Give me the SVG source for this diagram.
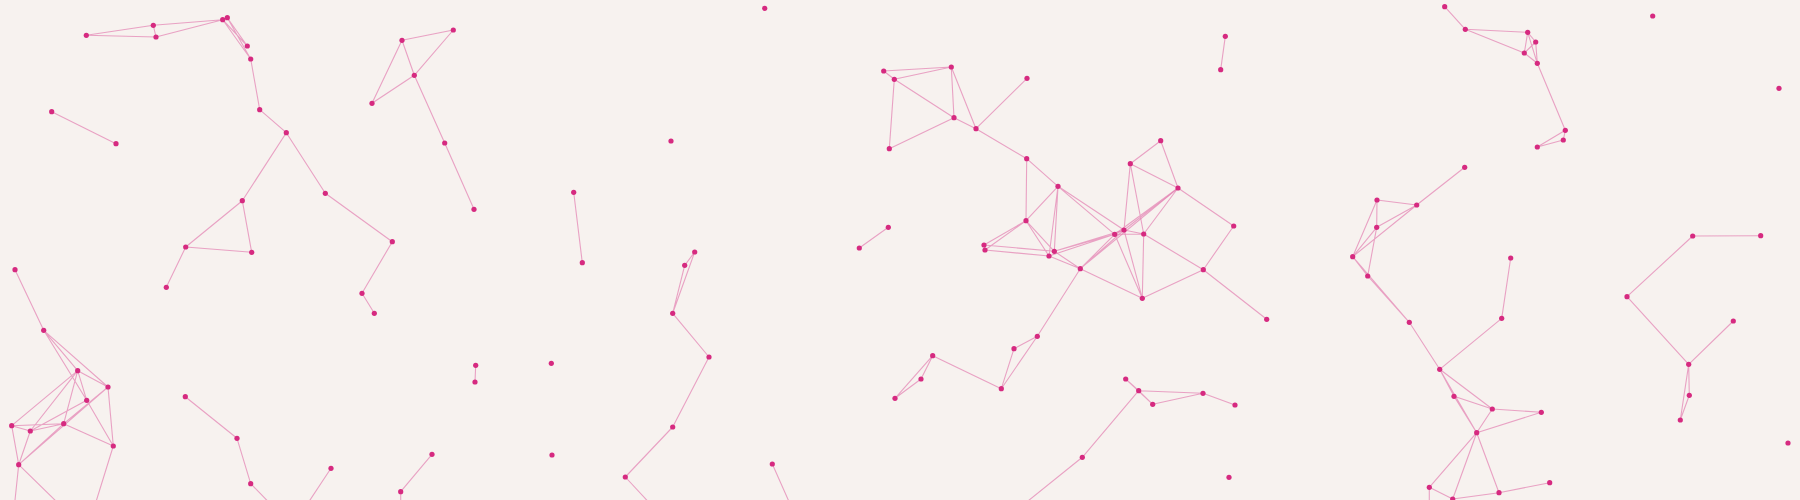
<svg xmlns="http://www.w3.org/2000/svg" width="1800" height="500" viewBox="0 0 1800 500">
<style>
.e{stroke:#e27fb0;stroke-width:1.1;stroke-opacity:0.7;fill:none}
.n{fill:#d62a80}
</style>
<rect width="1800" height="500" fill="#f7f2ef"/>
<g id="connectors" class="e">
<path d="M86.3,35.3L153.3,25.3M86.3,35.3L156,37M153.3,25.3L156,37M153.3,25.3L222.7,19.7M156,37L222.7,19.7M222.7,19.7L227.3,17.7M222.7,19.7L247.3,46M222.7,19.7L250.7,59M227.3,17.7L247.3,46M227.3,17.7L250.7,59M250.7,59L259.7,109.7M259.7,109.7L286.3,132.7M286.3,132.7L242.3,200.7M286.3,132.7L325.3,193.3M242.3,200.7L185.7,247M242.3,200.7L251.7,252.3M185.7,247L251.7,252.3M185.7,247L166.3,287.3M51.7,111.7L116,143.7"/>
<path d="M402,40.3L453.3,30M402,40.3L414.3,75.3M453.3,30L414.3,75.3M402,40.3L372,103.3M414.3,75.3L372,103.3M414.3,75.3L444.7,143M444.7,143L474,209.3M325.3,193.3L392.3,241.7M392.3,241.7L362,293.3M362,293.3L374.3,313.3M573.7,192.3L582.3,262.7"/>
<path d="M883.7,71L894.3,79.3M883.7,71L951.3,67M894.3,79.3L951.3,67M894.3,79.3L889.3,148.7M894.3,79.3L954,117.7M889.3,148.7L954,117.7M888.3,227.3L859.3,248"/>
<path d="M951.3,67L954,117.7M951.3,67L976,128.7M954,117.7L976,128.7M976,128.7L1027,78.3M976,128.7L1026.7,158.7M1026.7,158.7L1058,186.3M1026.7,158.7L1026,220.7M1058,186.3L1026,220.7M1058,186.3L1049,256M1058,186.3L1054.3,251.3M1058,186.3L1124,230M1058,186.3L1114.7,234.3M1026,220.7L984,245M1026,220.7L985,250M1026,220.7L1049,256M1026,220.7L1054.3,251.3M984,245L985,250M985,250L1049,256M984,245L1054.3,251.3M1054.3,251.3L1114.7,234.3M1054.3,251.3L1124,230M1049,256L1114.7,234.3"/>
<path d="M1160.7,140.7L1130.3,163.7M1160.7,140.7L1178,188M1130.3,163.7L1178,188M1130.3,163.7L1124,230M1130.3,163.7L1143.7,234M1178,188L1124,230M1178,188L1114.7,234.3M1178,188L1143.7,234M1178,188L1233.7,226M1124,230L1114.7,234.3M1124,230L1143.7,234M1114.7,234.3L1143.7,234M1143.7,234L1203.3,269.7M1233.7,226L1203.3,269.7"/>
<path d="M1049,256L1080.3,268.7M1054.3,251.3L1080.3,268.7M1080.3,268.7L1124,230M1080.3,268.7L1114.7,234.3M1080.3,268.7L1178,188M1080.3,268.7L1142.3,298.3M1080.3,268.7L1037.3,336.3M1142.3,298.3L1124,230M1142.3,298.3L1114.7,234.3M1142.3,298.3L1143.7,234M1142.3,298.3L1203.3,269.7M1037.3,336.3L1014,348.7M1037.3,336.3L1001.3,388.7M1014,348.7L1001.3,388.7M932.7,355.7L1001.3,388.7M932.7,355.7L921,379M932.7,355.7L895,398.3M921,379L895,398.3M1125.7,379L1138.7,390.7M1125.7,379L1152.7,404.3M1138.7,390.7L1152.7,404.3M1138.7,390.7L1082.3,457.3M1082.3,457.3L1023,505M1138.7,390.7L1203,393.3M1152.7,404.3L1203,393.3M1203,393.3L1235,405M1203.3,269.7L1266.7,319.3"/>
<path d="M1352.7,256.7L1367.7,276M1352.7,256.7L1409.3,322.3M1367.7,276L1409.3,322.3M1409.3,322.3L1439.7,369.3M1439.7,369.3L1454,396.3M1439.7,369.3L1492.3,409M1439.7,369.3L1476.7,432.7M1454,396.3L1492.3,409M1454,396.3L1476.7,432.7M1492.3,409L1476.7,432.7M1476.7,432.7L1429.3,487.3M1476.7,432.7L1452.7,499M1476.7,432.7L1499,492.7M1429.3,487.3L1452.7,499M1452.7,499L1499,492.7M1429.3,487.3L1429.3,505M1439.7,369.3L1501.7,318.3M1492.3,409L1541.3,412.3M1476.7,432.7L1541.3,412.3M1499,492.7L1549.7,482.7"/>
<path d="M1225.3,36.3L1220.7,69.7M1444.7,6.7L1465.3,29.3M1465.3,29.3L1527.7,32.3M1465.3,29.3L1524.3,53M1464.7,167.3L1416.7,205M1377,200L1416.7,205M1377,200L1376.7,227.3M1416.7,205L1376.7,227.3M1377,200L1352.7,256.7M1416.7,205L1352.7,256.7M1376.7,227.3L1352.7,256.7M1376.7,227.3L1367.7,276"/>
<path d="M1527.7,32.3L1535.7,42M1527.7,32.3L1524.3,53M1527.7,32.3L1537.3,63.3M1535.7,42L1524.3,53M1535.7,42L1537.3,63.3M1524.3,53L1537.3,63.3M1537.3,63.3L1565.3,130.3M1565.3,130.3L1563.3,140M1565.3,130.3L1537.3,147M1563.3,140L1537.3,147M1692.7,236L1760.7,235.7M1692.7,236L1627,296.7M1510.7,258L1501.7,318.3M1627,296.7L1688.7,364.3M1733.3,321L1688.7,364.3M1688.7,364.3L1689.3,395.3M1688.7,364.3L1680.3,420M1689.3,395.3L1680.3,420"/>
<path d="M15,269.7L43.7,330.3M43.7,330.3L77.7,370.7M43.7,330.3L108,387M43.7,330.3L86.7,400.3M77.7,370.7L108,387M77.7,370.7L86.7,400.3M77.7,370.7L11.7,425.7M77.7,370.7L30.3,431M77.7,370.7L63.7,423.7M108,387L63.7,423.7M108,387L18.7,464.7M108,387L113.3,446M86.7,400.3L113.3,446M86.7,400.3L30.3,431M63.7,423.7L113.3,446M11.7,425.7L63.7,423.7M11.7,425.7L30.3,431M30.3,431L63.7,423.7M11.7,425.7L18.7,464.7M30.3,431L18.7,464.7M63.7,423.7L18.7,464.7M18.7,464.7L14.5,505M18.7,464.7L60,505M113.3,446L95,505"/>
<path d="M185.3,396.7L237,438.3M237,438.3L250.7,483.7M250.7,483.7L271.5,505M475.7,365.3L475,382M331,468.3L306.7,505M432,454.3L400.7,491.7M400.7,491.7L400.7,505M694.7,252L684.7,265.3M694.7,252L672.7,313.3M684.7,265.3L672.7,313.3M672.7,313.3L709,357M709,357L672.7,427M672.7,427L625.3,477M625.3,477L651.3,505M772.3,464L790.5,505"/>
</g>
<g class="n">
<g id="A1"><circle cx="86.3" cy="35.3" r="2.6"/></g>
<g id="A2"><circle cx="153.3" cy="25.3" r="2.6"/></g>
<g id="A3"><circle cx="156" cy="37" r="2.6"/></g>
<g id="A4"><circle cx="222.7" cy="19.7" r="2.6"/></g>
<g id="A5"><circle cx="227.3" cy="17.7" r="2.6"/></g>
<g id="A6"><circle cx="247.3" cy="46" r="2.6"/></g>
<g id="A7"><circle cx="250.7" cy="59" r="2.6"/></g>
<g id="A8"><circle cx="259.7" cy="109.7" r="2.6"/></g>
<g id="A9"><circle cx="286.3" cy="132.7" r="2.6"/></g>
<g id="A10"><circle cx="51.7" cy="111.7" r="2.6"/></g>
<g id="A11"><circle cx="116" cy="143.7" r="2.6"/></g>
<g id="A12"><circle cx="242.3" cy="200.7" r="2.6"/></g>
<g id="A13"><circle cx="185.7" cy="247" r="2.6"/></g>
<g id="B1"><circle cx="402" cy="40.3" r="2.6"/></g>
<g id="B2"><circle cx="453.3" cy="30" r="2.6"/></g>
<g id="B3"><circle cx="414.3" cy="75.3" r="2.6"/></g>
<g id="B4"><circle cx="372" cy="103.3" r="2.6"/></g>
<g id="B5"><circle cx="444.7" cy="143" r="2.6"/></g>
<g id="B6"><circle cx="474" cy="209.3" r="2.6"/></g>
<g id="B7"><circle cx="325.3" cy="193.3" r="2.6"/></g>
<g id="B8"><circle cx="392.3" cy="241.7" r="2.6"/></g>
<g id="B9"><circle cx="573.7" cy="192.3" r="2.6"/></g>
<g id="C1"><circle cx="764.7" cy="8.3" r="2.6"/></g>
<g id="C2"><circle cx="671" cy="141" r="2.6"/></g>
<g id="C3"><circle cx="883.7" cy="71" r="2.6"/></g>
<g id="C4"><circle cx="894.3" cy="79.3" r="2.6"/></g>
<g id="C5"><circle cx="889.3" cy="148.7" r="2.6"/></g>
<g id="C6"><circle cx="888.3" cy="227.3" r="2.6"/></g>
<g id="C7"><circle cx="859.3" cy="248" r="2.6"/></g>
<g id="D1"><circle cx="951.3" cy="67" r="2.6"/></g>
<g id="D2"><circle cx="1027" cy="78.3" r="2.6"/></g>
<g id="D3"><circle cx="954" cy="117.7" r="2.6"/></g>
<g id="D4"><circle cx="976" cy="128.7" r="2.6"/></g>
<g id="D5"><circle cx="1026.7" cy="158.7" r="2.6"/></g>
<g id="D6"><circle cx="1058" cy="186.3" r="2.6"/></g>
<g id="D7"><circle cx="1026" cy="220.7" r="2.6"/></g>
<g id="D8"><circle cx="984" cy="245" r="2.6"/></g>
<g id="D9"><circle cx="985" cy="250" r="2.6"/></g>
<g id="D10"><circle cx="1160.7" cy="140.7" r="2.6"/></g>
<g id="D11"><circle cx="1130.3" cy="163.7" r="2.6"/></g>
<g id="D12"><circle cx="1178" cy="188" r="2.6"/></g>
<g id="D13"><circle cx="1124" cy="230" r="2.6"/></g>
<g id="D14"><circle cx="1114.7" cy="234.3" r="2.6"/></g>
<g id="D15"><circle cx="1143.7" cy="234" r="2.6"/></g>
<g id="D16"><circle cx="1233.7" cy="226" r="2.6"/></g>
<g id="E2"><circle cx="1049" cy="256" r="2.6"/></g>
<g id="E3"><circle cx="1054.3" cy="251.3" r="2.6"/></g>
<g id="E4"><circle cx="1080.3" cy="268.7" r="2.6"/></g>
<g id="E5"><circle cx="1142.3" cy="298.3" r="2.6"/></g>
<g id="E6"><circle cx="1037.3" cy="336.3" r="2.6"/></g>
<g id="E7"><circle cx="1014" cy="348.7" r="2.6"/></g>
<g id="E8"><circle cx="932.7" cy="355.7" r="2.6"/></g>
<g id="E9"><circle cx="921" cy="379" r="2.6"/></g>
<g id="E10"><circle cx="1001.3" cy="388.7" r="2.6"/></g>
<g id="E11"><circle cx="1125.7" cy="379" r="2.6"/></g>
<g id="E12"><circle cx="1138.7" cy="390.7" r="2.6"/></g>
<g id="E13"><circle cx="1152.7" cy="404.3" r="2.6"/></g>
<g id="E14"><circle cx="1082.3" cy="457.3" r="2.6"/></g>
<g id="F1"><circle cx="895" cy="398.3" r="2.6"/></g>
<g id="G1"><circle cx="1203.3" cy="269.7" r="2.6"/></g>
<g id="G2"><circle cx="1266.7" cy="319.3" r="2.6"/></g>
<g id="G3"><circle cx="1203" cy="393.3" r="2.6"/></g>
<g id="G4"><circle cx="1235" cy="405" r="2.6"/></g>
<g id="G5"><circle cx="1229" cy="477.3" r="2.6"/></g>
<g id="G6"><circle cx="1352.7" cy="256.7" r="2.6"/></g>
<g id="G7"><circle cx="1367.7" cy="276" r="2.6"/></g>
<g id="G8"><circle cx="1409.3" cy="322.3" r="2.6"/></g>
<g id="G9"><circle cx="1439.7" cy="369.3" r="2.6"/></g>
<g id="G10"><circle cx="1454" cy="396.3" r="2.6"/></g>
<g id="G11"><circle cx="1492.3" cy="409" r="2.6"/></g>
<g id="G12"><circle cx="1476.7" cy="432.7" r="2.6"/></g>
<g id="G13"><circle cx="1429.3" cy="487.3" r="2.6"/></g>
<g id="G14"><circle cx="1452.7" cy="499" r="2.6"/></g>
<g id="G15"><circle cx="1499" cy="492.7" r="2.6"/></g>
<g id="H1"><circle cx="1225.3" cy="36.3" r="2.6"/></g>
<g id="H2"><circle cx="1220.7" cy="69.7" r="2.6"/></g>
<g id="H3"><circle cx="1444.7" cy="6.7" r="2.6"/></g>
<g id="H4"><circle cx="1465.3" cy="29.3" r="2.6"/></g>
<g id="H5"><circle cx="1464.7" cy="167.3" r="2.6"/></g>
<g id="H6"><circle cx="1377" cy="200" r="2.6"/></g>
<g id="H7"><circle cx="1416.7" cy="205" r="2.6"/></g>
<g id="H8"><circle cx="1376.7" cy="227.3" r="2.6"/></g>
<g id="I1"><circle cx="1527.7" cy="32.3" r="2.6"/></g>
<g id="I2"><circle cx="1535.7" cy="42" r="2.6"/></g>
<g id="I3"><circle cx="1524.3" cy="53" r="2.6"/></g>
<g id="I4"><circle cx="1537.3" cy="63.3" r="2.6"/></g>
<g id="I5"><circle cx="1565.3" cy="130.3" r="2.6"/></g>
<g id="I6"><circle cx="1563.3" cy="140" r="2.6"/></g>
<g id="I7"><circle cx="1537.3" cy="147" r="2.6"/></g>
<g id="I8"><circle cx="1652.7" cy="16" r="2.6"/></g>
<g id="I9"><circle cx="1779" cy="88.3" r="2.6"/></g>
<g id="I10"><circle cx="1692.7" cy="236" r="2.6"/></g>
<g id="I11"><circle cx="1760.7" cy="235.7" r="2.6"/></g>
<g id="J1"><circle cx="1510.7" cy="258" r="2.6"/></g>
<g id="J2"><circle cx="1501.7" cy="318.3" r="2.6"/></g>
<g id="J3"><circle cx="1627" cy="296.7" r="2.6"/></g>
<g id="J4"><circle cx="1733.3" cy="321" r="2.6"/></g>
<g id="J5"><circle cx="1688.7" cy="364.3" r="2.6"/></g>
<g id="J6"><circle cx="1689.3" cy="395.3" r="2.6"/></g>
<g id="J7"><circle cx="1680.3" cy="420" r="2.6"/></g>
<g id="J8"><circle cx="1788" cy="443" r="2.6"/></g>
<g id="J9"><circle cx="1541.3" cy="412.3" r="2.6"/></g>
<g id="J10"><circle cx="1549.7" cy="482.7" r="2.6"/></g>
<g id="K1"><circle cx="15" cy="269.7" r="2.6"/></g>
<g id="K2"><circle cx="43.7" cy="330.3" r="2.6"/></g>
<g id="K3"><circle cx="77.7" cy="370.7" r="2.6"/></g>
<g id="K4"><circle cx="108" cy="387" r="2.6"/></g>
<g id="K5"><circle cx="86.7" cy="400.3" r="2.6"/></g>
<g id="K6"><circle cx="63.7" cy="423.7" r="2.6"/></g>
<g id="K7"><circle cx="11.7" cy="425.7" r="2.6"/></g>
<g id="K8"><circle cx="30.3" cy="431" r="2.6"/></g>
<g id="K9"><circle cx="113.3" cy="446" r="2.6"/></g>
<g id="K10"><circle cx="18.7" cy="464.7" r="2.6"/></g>
<g id="K11"><circle cx="166.3" cy="287.3" r="2.6"/></g>
<g id="K12"><circle cx="251.7" cy="252.3" r="2.6"/></g>
<g id="K13"><circle cx="185.3" cy="396.7" r="2.6"/></g>
<g id="K14"><circle cx="237" cy="438.3" r="2.6"/></g>
<g id="K15"><circle cx="250.7" cy="483.7" r="2.6"/></g>
<g id="L1"><circle cx="362" cy="293.3" r="2.6"/></g>
<g id="L2"><circle cx="374.3" cy="313.3" r="2.6"/></g>
<g id="L3"><circle cx="475.7" cy="365.3" r="2.6"/></g>
<g id="L4"><circle cx="475" cy="382" r="2.6"/></g>
<g id="L5"><circle cx="551.3" cy="363.3" r="2.6"/></g>
<g id="L6"><circle cx="552" cy="455" r="2.6"/></g>
<g id="L7"><circle cx="331" cy="468.3" r="2.6"/></g>
<g id="L8"><circle cx="432" cy="454.3" r="2.6"/></g>
<g id="L9"><circle cx="400.7" cy="491.7" r="2.6"/></g>
<g id="L10"><circle cx="582.3" cy="262.7" r="2.6"/></g>
<g id="M1"><circle cx="694.7" cy="252" r="2.6"/></g>
<g id="M2"><circle cx="684.7" cy="265.3" r="2.6"/></g>
<g id="M3"><circle cx="672.7" cy="313.3" r="2.6"/></g>
<g id="M4"><circle cx="709" cy="357" r="2.6"/></g>
<g id="M5"><circle cx="672.7" cy="427" r="2.6"/></g>
<g id="M6"><circle cx="625.3" cy="477" r="2.6"/></g>
<g id="M7"><circle cx="772.3" cy="464" r="2.6"/></g>
</g>
</svg>
